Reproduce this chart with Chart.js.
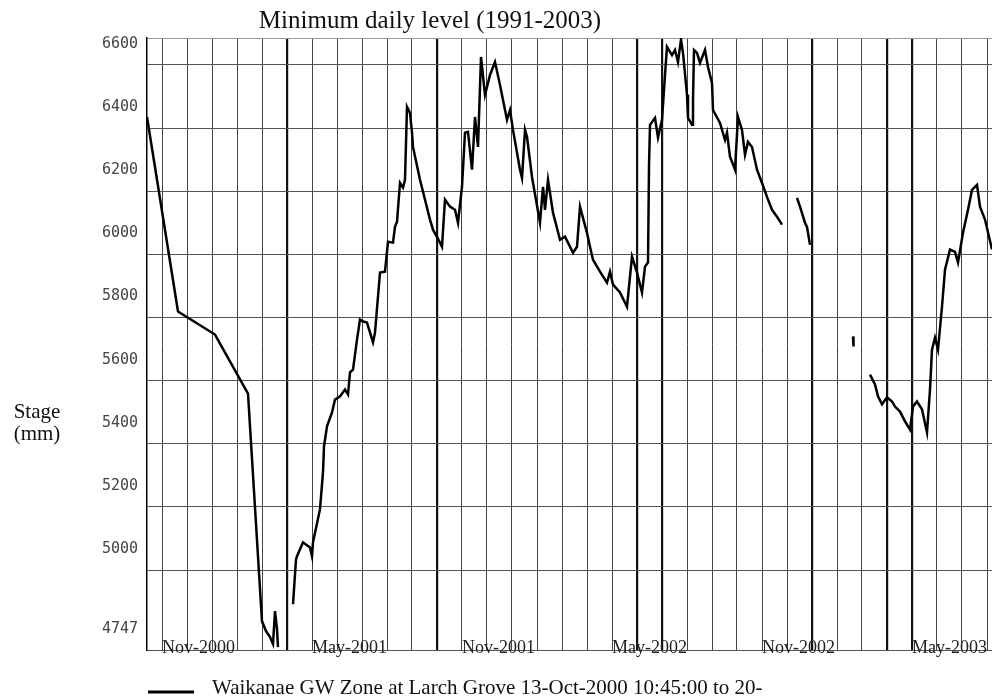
<!DOCTYPE html>
<html>
<head>
<meta charset="utf-8">
<script src="https://cdn.jsdelivr.net/npm/chart.js@4.4.0/dist/chart.umd.min.js"></script>
<style>
  body { margin: 0; background: #fff; }
  #wrap { width: 992px; height: 700px; }
</style>
</head>
<body>
<div id="wrap"><canvas id="chart"></canvas></div>
<script>
// x = months counted from 1-Oct-2000 (13-Oct-2000 is 0.4), null = gap in record
const months = [
  0.40, 1.64, 3.12, 4.44, 5.00, 5.16, 5.32, 5.44, 5.52, 5.60, 5.64, 5.90,
  6.24, 6.36, 6.40, 6.64, 6.92, 7.00, 7.04, 7.32, 7.44, 7.48, 7.60, 7.80, 7.92, 8.12, 8.32, 8.44,
  8.52, 8.64, 8.80, 8.92, 9.04, 9.20, 9.44, 9.52, 9.72, 9.92, 10.04, 10.24, 10.32, 10.40, 10.52,
  10.64, 10.72, 10.80, 10.92, 11.00, 11.04, 11.32, 11.72, 11.84, 12.12, 12.20, 12.32, 12.52, 12.72,
  12.84, 13.00, 13.12, 13.24, 13.40, 13.52, 13.64, 13.76, 13.92, 14.12, 14.32, 14.52, 14.64, 14.80,
  14.92, 15.04, 15.32, 15.40, 15.52, 15.60, 15.80, 16.12, 16.24, 16.32, 16.44, 16.64, 16.92, 17.12,
  17.44, 17.60, 17.72, 18.00, 18.12, 18.24, 18.52, 18.80, 18.92, 19.04, 19.32, 19.60, 19.80, 20.00,
  20.20, 20.32, 20.44, 20.48, 20.52, 20.72, 20.84, 21.00, 21.12, 21.20, 21.40, 21.52, 21.64, 21.76,
  21.84, 22.00, 22.04, 22.20, 22.24, 22.28, 22.40, 22.52, 22.72, 22.84, 23.00, 23.04, 23.32, 23.52,
  23.60, 23.72, 23.92, 24.04, 24.20, 24.32, 24.44, 24.60, 24.80, 25.00, 25.20, 25.40, 25.60, 25.80, 26.10,
  26.40, 26.52, 26.72, 26.80, 26.92, 27.50,
  28.64, 28.66, 29.00,
  29.32, 29.52, 29.64, 29.80, 30.00, 30.20, 30.32, 30.52, 30.72, 30.92, 31.04, 31.20, 31.40, 31.60,
  31.72, 31.80, 31.92, 32.04, 32.20, 32.32, 32.52, 32.72, 32.84, 33.04, 33.24, 33.40, 33.60, 33.72,
  33.92, 34.20
];
const stage = [
  6435, 5819, 5746, 5559, 4838, 4807, 4788, 4766, 4870, 4813, 4756, null,
  4892, 5034, 5044, 5088, 5072, 5044, 5088, 5193, 5310, 5392, 5455, 5499, 5540, 5550, 5572, 5556,
  5626, 5635, 5730, 5793, 5787, 5784, 5721, 5752, 5942, 5945, 6040, 6037, 6087, 6103, 6226,
  6211, 6236, 6467, 6448, 6385, 6340, 6236, 6110, 6078, 6037, 6024, 6173, 6151, 6141,
  6100, 6214, 6385, 6388, 6268, 6435, 6340, 6625, 6505, 6568, 6609, 6536, 6489, 6426,
  6457, 6394, 6268, 6242, 6394, 6372, 6245, 6100, 6214, 6141, 6236, 6132, 6046, 6056,
  6005, 6024, 6151, 6068, 6024, 5983, 5945, 5910, 5945, 5904, 5879, 5834, 5993, 5942,
  5879, 5961, 5974, 6277, 6410, 6432, 6369, 6426, 6568, 6657, 6631, 6647, 6609, 6680,
  6638, 6505, 6432, 6410, 6489, 6647, 6638, 6606, 6647, 6593, 6543, 6457, 6416, 6362,
  6385, 6309, 6268, 6435, 6394, 6315, 6356, 6340, 6268, 6226, 6182, 6141, 6119, 6094, null,
  6179, 6151, 6100, 6087, 6030, null,
  5740, 5708, null,
  5619, 5588, 5550, 5525, 5547, 5534, 5518, 5502, 5471, 5445, 5518, 5534, 5509, 5436,
  5572, 5698, 5736, 5698, 5834, 5951, 6015, 6008, 5974, 6068, 6141, 6204, 6220, 6151,
  6110, 6015
];

const yTicks = [4747, 5000, 5200, 5400, 5600, 5800, 6000, 6200, 6400, 6600];
const xTicks = [1, 7, 13, 19, 25, 31];
const xTickLabels = ["Nov-2000", "May-2001", "Nov-2001", "May-2002", "Nov-2002", "May-2003"];
const gridMonths = [1, 2, 3, 4, 5, 6, 7, 8, 9, 10, 11, 12, 13, 14, 15, 16, 17, 18, 19, 20,
  21, 22, 23, 24, 25, 26, 27, 28, 29, 30, 31, 32, 33, 34];
const boldMonths = [6, 12, 20, 21, 27, 30, 31];

const seriesLabel = "Waikanae GW Zone at Larch Grove 13-Oct-2000 10:45:00 to 20-";

const textPlugin = {
  id: 'texts',
  afterDraw(chart) {
    const c = chart.ctx;
    c.save();
    c.fillStyle = '#111';
    c.textBaseline = 'alphabetic';
    c.textAlign = 'center';
    c.font = '25px "Liberation Serif"';
    c.fillText('Minimum daily level (1991-2003)', 430, 28);
    c.font = '21px "Liberation Serif"';
    c.fillText('Stage', 37, 418);
    c.fillText('(mm)', 37, 440);
    c.textAlign = 'left';
    c.fillText(chart.data.datasets[0].label, 212, 694);
    c.strokeStyle = '#000';
    c.lineWidth = 3;
    c.beginPath();
    c.moveTo(148, 692);
    c.lineTo(194, 692);
    c.stroke();
    c.restore();
  }
};

const points = months.map((m, i) => ({ x: m, y: stage[i] }));

new Chart(document.getElementById('chart'), {
  type: 'line',
  data: {
    datasets: [{
      label: seriesLabel,
      data: points,
      xAxisID: 'x',
      yAxisID: 'y',
      borderColor: '#000',
      borderWidth: 2.5,
      pointRadius: 0,
      tension: 0,
      spanGaps: false
    }]
  },
  options: {
    responsive: true,
    maintainAspectRatio: false,
    animation: false,
    layout: { padding: { top: 38, left: 0, right: 0, bottom: 0 } },
    plugins: {
      legend: { display: false },
      tooltip: { enabled: false }
    },
    scales: {
      x: {
        type: 'linear', min: 0.4, max: 34.2, position: 'bottom',
        afterBuildTicks: s => { s.ticks = xTicks.map(v => ({ value: v })); },
        afterFit: s => { s.height = 50; s.paddingLeft = 0; s.paddingRight = 0; },
        grid: { display: false, drawTicks: false },
        border: { display: true, color: '#555', width: 1 },
        ticks: {
          autoSkip: false, maxRotation: 0, align: 'start', mirror: true, padding: -9,
          color: '#222', font: { family: 'Liberation Serif', size: 18 },
          callback: (v, i) => xTickLabels[i]
        }
      },
      xg: {
        type: 'linear', min: 0.4, max: 34.2, position: 'top',
        afterBuildTicks: s => { s.ticks = gridMonths.map(v => ({ value: v })); },
        afterFit: s => { s.height = 0; s.paddingLeft = 0; s.paddingRight = 0; },
        grid: {
          drawTicks: false,
          color: ctx => boldMonths.includes(ctx.tick && ctx.tick.value) ? '#111' : '#444',
          lineWidth: ctx => boldMonths.includes(ctx.tick && ctx.tick.value) ? 2.2 : 1
        },
        border: { display: true, color: '#999', width: 1 },
        ticks: { display: false }
      },
      y: {
        type: 'linear', min: 4747, max: 6685,
        afterBuildTicks: s => { s.ticks = yTicks.map(v => ({ value: v })); },
        afterFit: s => { s.width = 147; },
        grid: {
          drawTicks: false,
          color: ctx => (ctx.tick && ctx.tick.value === 4747) ? 'rgba(0,0,0,0)' : '#555',
          lineWidth: 1
        },
        border: { display: true, color: '#000', width: 1.5 },
        ticks: {
          autoSkip: false, padding: 9, labelOffset: -21,
          color: '#444', font: { family: 'DejaVu Sans Mono', size: 15 },
          callback: v => String(v)
        }
      }
    }
  },
  plugins: [textPlugin]
});
</script>
</body>
</html>
